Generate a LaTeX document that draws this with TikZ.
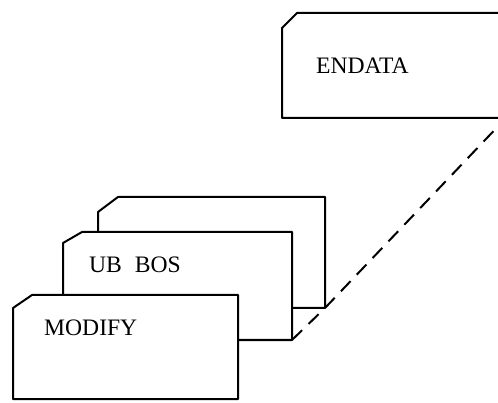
\documentclass[tikz,border=0pt]{standalone}
\usepackage{fontspec}
\setmainfont{Liberation Serif}
\begin{document}
\begin{tikzpicture}[x=1pt,y=-1pt,
  card/.style={draw=black,line width=2pt,fill=white,line join=round},
  lbl/.style={anchor=base west,inner sep=0pt,font=\rmfamily\fontsize{23.6}{28}\selectfont},
  link/.style={draw=black,line width=2pt,dash pattern=on 14pt off 9pt}]
\useasboundingbox (0,0) rectangle (498,403);
\clip (0,0) rectangle (498,403);
% corners
\coordinate (c4br) at (506,118);
\coordinate (c3br) at (325,308);
\coordinate (c2br) at (292,340);
% ENDATA card
\draw[card] (282,118) -- (282,28) -- (297,13) -- (520,13) -- (520,118) -- cycle;
% back blank card
\draw[card] (98,308) -- (98,212) -- (118,197) -- (325,197) -- (325,308) -- cycle;
% UB BOS card
\draw[card] (63,340) -- (63,243) -- (82,232) -- (292,232) -- (292,340) -- cycle;
% MODIFY card
\draw[card] (13,399) -- (13,308) -- (32,295) -- (238,295) -- (238,399) -- cycle;
% labels
\node[lbl] (endata) at (316,74) {ENDATA};
\node[lbl] (ubbos) at (89,273) {UB\hspace{13pt}BOS};
\node[lbl] (modify) at (44,336) {MODIFY};
% dashed connector
\draw[link] (c2br) -- (c3br) -- (c4br);
\end{tikzpicture}
\end{document}
